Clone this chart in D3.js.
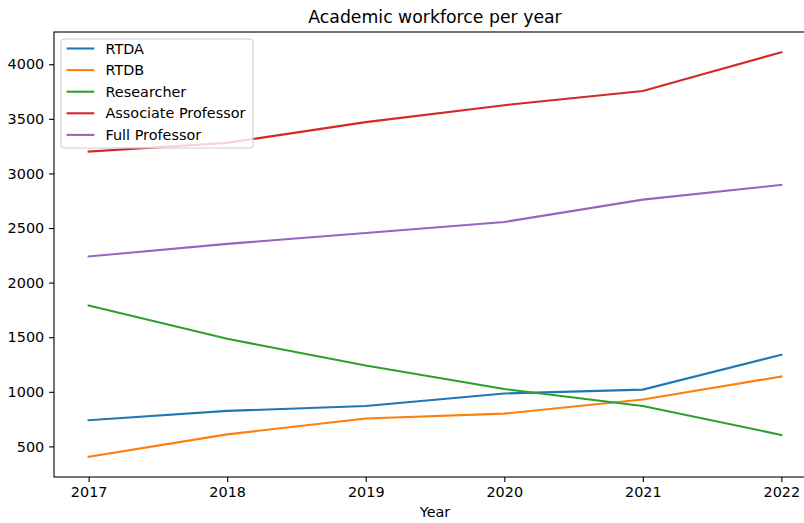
<!DOCTYPE html>
<html>
<head>
<meta charset="utf-8">
<script src="https://cdn.jsdelivr.net/npm/d3@7"></script>
<style>
  body { margin: 0; background: #fff; }
  svg text { font-family: "DejaVu Sans", sans-serif; }
</style>
</head>
<body>
<div id="chart"></div>
<script>

var years = [2017, 2018, 2019, 2020, 2021, 2022];
var seriesNames = ['RTDA', 'RTDB', 'Researcher', 'Associate Professor', 'Full Professor'];
var rtda = [740, 825, 870, 985, 1020, 1340];
var rtdb = [405, 610, 755, 800, 930, 1140];
var researcher = [1790, 1485, 1240, 1025, 870, 605];
var associate = [3200, 3280, 3470, 3625, 3755, 4110];
var full = [2240, 2355, 2455, 2555, 2760, 2895];
var yTicks = [500, 1000, 1500, 2000, 2500, 3000, 3500, 4000];
var colors = ['#1f77b4', '#ff7f0e', '#2ca02c', '#d62728', '#9467bd'];

var allSeries = [rtda, rtdb, researcher, associate, full];

var margin = {top: 32, right: -12, bottom: 46, left: 54},
    width = 804 - margin.left - margin.right,
    height = 523 - margin.top - margin.bottom;

var svg = d3.select("#chart")
    .append("svg")
      .attr("width", 804)
      .attr("height", 523)
    .append("g")
      .attr("transform", "translate(" + margin.left + "," + margin.top + ")");

// matplotlib style 5% padding
var x = d3.scaleLinear().domain([2016.75, 2022.25]).range([0, width]);
var vmin = d3.min(allSeries, s => d3.min(s)), vmax = d3.max(allSeries, s => d3.max(s));
var pad = (vmax - vmin) * 0.05;
var y = d3.scaleLinear().domain([vmin - pad, vmax + pad]).range([height, 0]);

var line = d3.line()
    .x((d, i) => x(years[i]))
    .y(d => y(d));

allSeries.forEach(function(s, i) {
    svg.append("path")
      .datum(s)
      .attr("fill", "none")
      .attr("stroke", colors[i])
      .attr("stroke-width", 2.08)
      .attr("stroke-linecap", "square")
      .attr("d", line);
});

// axes
var xAxis = svg.append("g")
    .attr("transform", "translate(0," + height + ")")
    .call(d3.axisBottom(x).tickValues(years).tickFormat(d3.format("d")).tickSize(4.9).tickPadding(4.9));

var yAxis = svg.append("g")
    .call(d3.axisLeft(y).tickValues(yTicks).tickFormat(d3.format("d")).tickSize(4.9).tickPadding(4.9));

[xAxis, yAxis].forEach(function(a) {
    a.select(".domain").remove();
    a.selectAll("line").attr("stroke", "#000").attr("stroke-width", 1.1);
    a.selectAll("text").attr("font-size", "14.4px").attr("fill", "#000")
        .style("font-family", "DejaVu Sans");
});

// spines
svg.append("rect")
    .attr("x", 0).attr("y", 0)
    .attr("width", width).attr("height", height)
    .attr("fill", "none")
    .attr("stroke", "#000")
    .attr("stroke-width", 1.1);

svg.append("text")
    .attr("x", width / 2)
    .attr("y", height + 40)
    .attr("text-anchor", "middle")
    .attr("font-size", "14.4px")
    .text("Year");

svg.append("text")
    .attr("x", width / 2)
    .attr("y", -9)
    .attr("text-anchor", "middle")
    .attr("font-size", "17.3px")
    .text("Academic workforce per year");

// legend
var legend = svg.append("g").attr("transform", "translate(7,7)");
legend.append("rect")
    .attr("width", 192).attr("height", 109)
    .attr("rx", 3)
    .attr("fill", "#fff").attr("fill-opacity", 0.8)
    .attr("stroke", "#cccccc");

seriesNames.forEach(function(name, i) {
    var yy = 9.5 + i * 21.6;
    legend.append("line")
        .attr("x1", 5.5).attr("x2", 33.3)
        .attr("y1", yy).attr("y2", yy)
        .attr("stroke", colors[i]).attr("stroke-width", 2.08);
    legend.append("text")
        .attr("x", 44.5).attr("y", yy + 5)
        .attr("font-size", "14.4px")
        .text(name);
});

</script>
</body>
</html>
